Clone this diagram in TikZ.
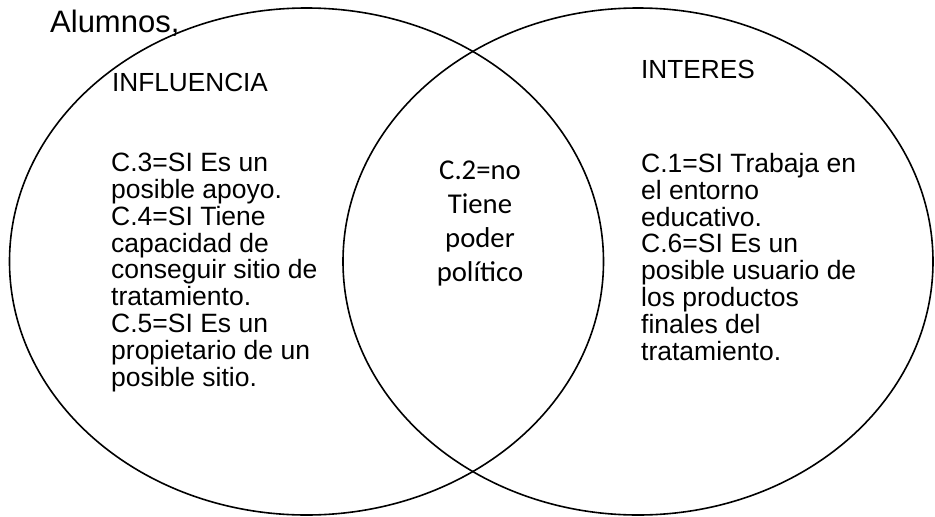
\documentclass[tikz,border=0pt]{standalone}
\usepackage{fontspec}
\setmainfont{Liberation Sans}
\newfontfamily\calibrifont{Carlito}
\usepackage{xcolor}
\usetikzlibrary{positioning}
\tikzset{
  % conjuntos del diagrama
  conjunto/.style={draw=black, line width=1.6pt},
  % texto de cada conjunto
  texto/.style={
    inner sep=0pt,
    anchor=north west,
    align=left,
    font=\fontsize{26.5}{26.8}\selectfont
  },
  % titulo de cada conjunto
  titulo/.style={inner sep=0pt, anchor=base west, font=\fontsize{26.2}{26.2}\selectfont},
  % texto de la interseccion
  comun/.style={
    inner sep=0pt,
    anchor=north,
    align=center,
    font=\calibrifont\fontsize{28.7}{34}\selectfont
  },
}
\begin{document}
\begin{tikzpicture}[x=1pt, y=-1pt]
    \useasboundingbox (0,0) rectangle (935,517);

    % Conjuntos
    \draw[conjunto] (306.5,261.5) ellipse [x radius=297, y radius=253.5];
    \draw[conjunto] (638,261.5) ellipse [x radius=295, y radius=253.5];

    % Titulos
    \node[inner sep=0pt, anchor=base west, font=\fontsize{31}{31}\selectfont] (alumnos) at (50,32) {Alumnos,};
    \node[titulo] (influencia) at (112,91) {INFLUENCIA};
    \node[titulo] (interes) at (641,78) {INTERES};

    % Textos
    \node[texto] (izq) at (111,153) {C.3=SI Es un\\posible apoyo.\\C.4=SI Tiene\\capacidad de\\conseguir sitio de\\tratamiento.\\C.5=SI Es un\\propietario de un\\posible sitio.};
    \node[comun] (centro) at (480,161) {C.2=no\\Tiene\\poder\\político};
    \node[texto] (der) at (641,153) {C.1=SI Trabaja en\\el entorno\\educativo.\\C.6=SI Es un\\posible usuario de\\los productos\\finales del\\tratamiento.};
\end{tikzpicture}
\end{document}
